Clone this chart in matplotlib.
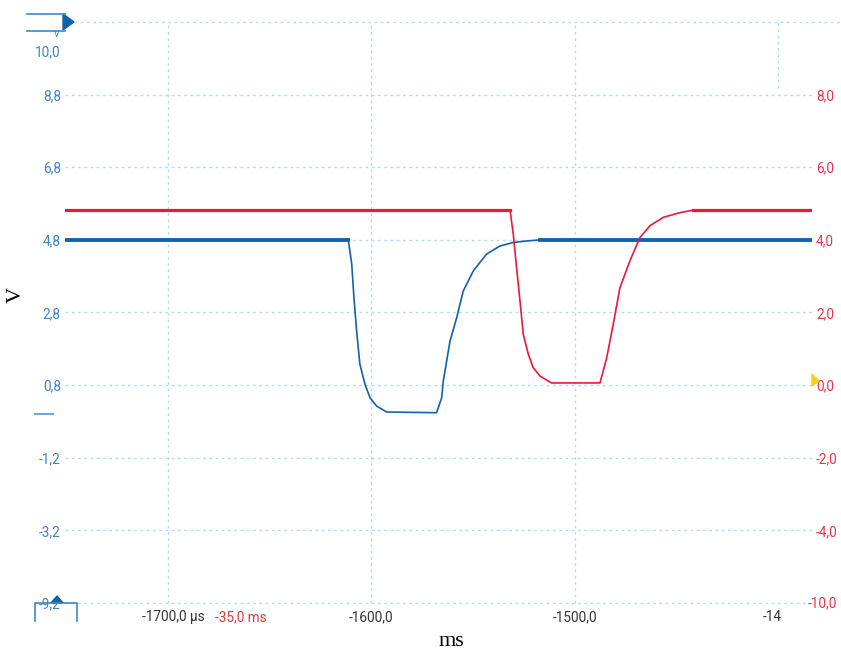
import matplotlib
matplotlib.use("Agg")
import matplotlib.pyplot as plt
from matplotlib.lines import Line2D
from matplotlib.patches import Polygon
import matplotlib.transforms as mtransforms

# scope capture, time in microseconds
ch_a_t = [-1750.6, -1611.4, -1609.7, -1608.6, -1607.3, -1605.7, -1603.2, -1600.7,
          -1597.4, -1592.5, -1568.0, -1565.5, -1564.7, -1561.4, -1558.1, -1554.9,
          -1550.0, -1543.4, -1536.9, -1530.3, -1523.7, -1517.2, -1383.5]
ch_a_v = [4.8, 4.8, 4.14, 3.21, 2.29, 1.38, 0.83, 0.45,
          0.22, 0.06, 0.04, 0.45, 0.91, 2.01, 2.66, 3.39,
          3.94, 4.41, 4.63, 4.73, 4.77, 4.8, 4.8]

ch_b_t = [-1750.6, -1531.9, -1530.3, -1528.7, -1527.0, -1525.4, -1522.9, -1520.5,
          -1517.2, -1511.5, -1487.7, -1484.4, -1481.2, -1477.9, -1473.0, -1468.1,
          -1463.1, -1456.6, -1448.4, -1441.9, -1383.5]
ch_b_v = [4.82, 4.82, 4.16, 3.24, 2.32, 1.40, 0.85, 0.48,
          0.25, 0.06, 0.06, 0.75, 1.67, 2.68, 3.42, 4.06,
          4.39, 4.62, 4.75, 4.82, 4.82]

left_ticks = [10.0, 8.8, 6.8, 4.8, 2.8, 0.8, -1.2, -3.2, -5.2]
left_labels = ["10,0", "8,8", "6,8", "4,8", "2,8", "0,8", "-1,2", "-3,2", "-9,2"]
grid_levels = [8.8, 6.8, 4.8, 2.8, 0.8, -1.2, -3.2, -5.2]
right_ticks = [8, 6, 4, 2, 0, -2, -4]
right_labels = ["8,0", "6,0", "4,0", "2,0", "0,0", "-2,0", "-4,0"]
x_grid = [-1700, -1600, -1500]
x_labels = ["-1600,0", "-1500,0"]

BLUE = "#1262ab"
RED = "#e8193c"
GRID = "#b3dcec"
DASH = (0, (2, 2.5))
W, H = 841, 650
FS = 9.8

plt.rcParams["font.family"] = ["Roboto", "DejaVu Sans"]

fig = plt.figure(figsize=(W / 100, H / 100), dpi=100)
ax = fig.add_axes([65 / W, 47 / H, 747 / W, 581 / H])
ax.set_xlim(-1750.6, -1383.5)
ax.set_ylim(-5.2, 10.8)
for s in ax.spines.values():
    s.set_visible(False)

# dotted grid
for g in grid_levels:
    ax.axhline(g, color=GRID, lw=1, ls=DASH, zorder=0, clip_on=False)
for g in x_grid:
    ax.axvline(g, color=GRID, lw=1, ls=DASH, zorder=0, clip_on=False)
ax.axvline(-1400, ymin=0.886, ymax=1, color=GRID, lw=1, ls=DASH, zorder=0,
           clip_on=False)

ax.set_yticks(left_ticks)
ax.set_yticklabels(left_labels)
ax.tick_params(axis="y", length=0, pad=3, labelsize=FS, labelcolor="#3f86c4")
ax.set_xticks([])

ax2 = ax.twinx()
ax2.set_ylim(-6, 10)
for s in ax2.spines.values():
    s.set_visible(False)
ax2.set_yticks(right_ticks)
ax2.set_yticklabels(right_labels)
ax2.tick_params(axis="y", length=0, pad=3, labelsize=FS, labelcolor="#e8354f")
fig.text(808 / W, 1 - 603 / H, "-10,0", ha="left", va="center", fontsize=FS,
         color="#e8354f")

# traces: thin body, thick noisy flat parts
ax.plot(ch_a_t, ch_a_v, color=BLUE, lw=1.2, zorder=3)
ax.plot(ch_a_t[:2], ch_a_v[:2], color=BLUE, lw=2.8, zorder=3)
ax.plot(ch_a_t[-2:], ch_a_v[-2:], color=BLUE, lw=2.8, zorder=3)
ax2.plot(ch_b_t, ch_b_v, color=RED, lw=1.2, zorder=3)
ax2.plot(ch_b_t[:2], ch_b_v[:2], color=RED, lw=2.3, zorder=3)
ax2.plot(ch_b_t[-2:], ch_b_v[-2:], color=RED, lw=2.3, zorder=3)

# time labels under the grid
tr = mtransforms.blended_transform_factory(ax.transData, ax.transAxes)
lab_y = -14 / 581
ax.text(-1712.8, lab_y, "-1700,0 µs", transform=tr, ha="left", va="center",
        fontsize=FS, color="#333333")
ax.text(-1676.9, lab_y, "-35,0 ms", transform=tr, ha="left", va="center",
        fontsize=FS, color="#e03a3a")
for t, lab in zip(x_grid[1:], x_labels):
    ax.text(t, lab_y, lab, transform=tr, ha="center", va="center",
            fontsize=FS, color="#333333")
ax.text(-1407.5, lab_y, "-14", transform=tr, ha="left", va="center",
        fontsize=FS, color="#333333")

fig.text(16 / W, 1 - 295 / H, "V", rotation=90, ha="center", va="center",
         family="Liberation Serif", fontsize=16, color="black")
fig.text(451 / W, 1 - 642 / H, "ms", ha="center", va="center",
         family="Liberation Serif", fontsize=16, color="black")


def px(x, y):
    return x / W, 1 - y / H


# channel markers drawn in pixel coords
def pline(xs, ys, color, lw=1.2, ls="-"):
    fx = [x / W for x in xs]
    fy = [1 - y / H for y in ys]
    fig.add_artist(Line2D(fx, fy, color=color, lw=lw, ls=ls))


pline([74, 841], [22, 22], GRID, lw=1, ls=DASH)
pline([27, 65], [14, 14], "#3f86c4")
pline([27, 65], [31, 31], "#3f86c4")
fig.add_artist(Polygon([px(63, 14), px(74, 22), px(63, 30)], closed=True,
                       color=BLUE, transform=fig.transFigure))
fig.text(57 / W, 1 - 34 / H, "v", ha="center", va="center", fontsize=8,
         color="#3f86c4")

pline([35, 35, 77, 77], [621, 603, 603, 621], "#3f86c4")
fig.add_artist(Polygon([px(51, 603), px(57, 596), px(63, 603)], closed=True,
                       color=BLUE, transform=fig.transFigure))
pline([35, 53], [414, 414], "#6fa3d4", lw=1.5)
fig.add_artist(Polygon([px(812, 374), px(819, 381), px(812, 386)], closed=True,
                       color="#f2d21e", transform=fig.transFigure))

fig.savefig("out.png", dpi=100)
